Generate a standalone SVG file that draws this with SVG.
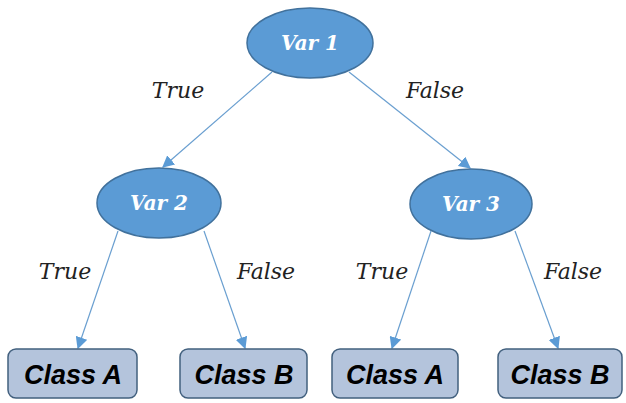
<svg xmlns="http://www.w3.org/2000/svg" width="626" height="403" viewBox="0 0 626 403">
<defs>
<marker id="arr" viewBox="0 0 10 10" refX="9" refY="5" markerWidth="12" markerHeight="12" markerUnits="userSpaceOnUse" orient="auto">
<path d="M0,0 L10,5 L0,10 z" fill="#5b9bd5"/>
</marker>
<style>
.ell{fill:#5b9bd5;stroke:#41719c;stroke-width:1.5}
.ev{fill:#fff;font-family:"DejaVu Serif",serif;font-style:italic;font-weight:bold;font-size:20px;text-anchor:middle}
.box{fill:#b4c4dc;stroke:#42607e;stroke-width:1.5}
.bt{fill:#000;font-family:"Liberation Sans",Arial,sans-serif;font-style:italic;font-weight:bold;font-size:27px;text-anchor:middle}
.lbl{fill:#222;font-family:"DejaVu Serif",serif;font-style:italic;font-size:22px;text-anchor:middle}
.con{stroke:#6a9fd0;stroke-width:1.2;fill:none;marker-end:url(#arr)}
</style>
</defs>
<rect width="626" height="403" fill="#fff"/>
<g id="connectors">
<line class="con" x1="272" y1="72" x2="163" y2="167"/>
<line class="con" x1="349" y1="72" x2="470" y2="168"/>
<line class="con" x1="118" y1="231" x2="78" y2="348"/>
<line class="con" x1="204" y1="231" x2="245" y2="348"/>
<line class="con" x1="431" y1="231" x2="392" y2="348"/>
<line class="con" x1="515" y1="231" x2="558" y2="348"/>
</g>
<g id="labels">
<text class="lbl" x="178" y="98">True</text>
<text class="lbl" x="435" y="98">False</text>
<text class="lbl" x="65" y="279">True</text>
<text class="lbl" x="266" y="279">False</text>
<text class="lbl" x="382" y="279">True</text>
<text class="lbl" x="573" y="279">False</text>
</g>
<g id="var1">
<ellipse class="ell" cx="310" cy="43" rx="63" ry="35"/>
<text class="ev" x="310" y="50">Var 1</text>
</g>
<g id="var2">
<ellipse class="ell" cx="159" cy="203" rx="62" ry="35"/>
<text class="ev" x="159" y="210">Var 2</text>
</g>
<g id="var3">
<ellipse class="ell" cx="471" cy="204" rx="61" ry="35"/>
<text class="ev" x="471" y="211">Var 3</text>
</g>
<g id="classA1">
<rect class="box" x="8" y="349" width="129" height="49" rx="8"/>
<text class="bt" x="73" y="384">Class A</text>
</g>
<g id="classB1">
<rect class="box" x="180" y="349" width="127" height="49" rx="8"/>
<text class="bt" x="244" y="384">Class B</text>
</g>
<g id="classA2">
<rect class="box" x="332" y="349" width="126" height="49" rx="8"/>
<text class="bt" x="395" y="384">Class A</text>
</g>
<g id="classB2">
<rect class="box" x="498" y="349" width="124" height="49" rx="8"/>
<text class="bt" x="560" y="384">Class B</text>
</g>
</svg>
